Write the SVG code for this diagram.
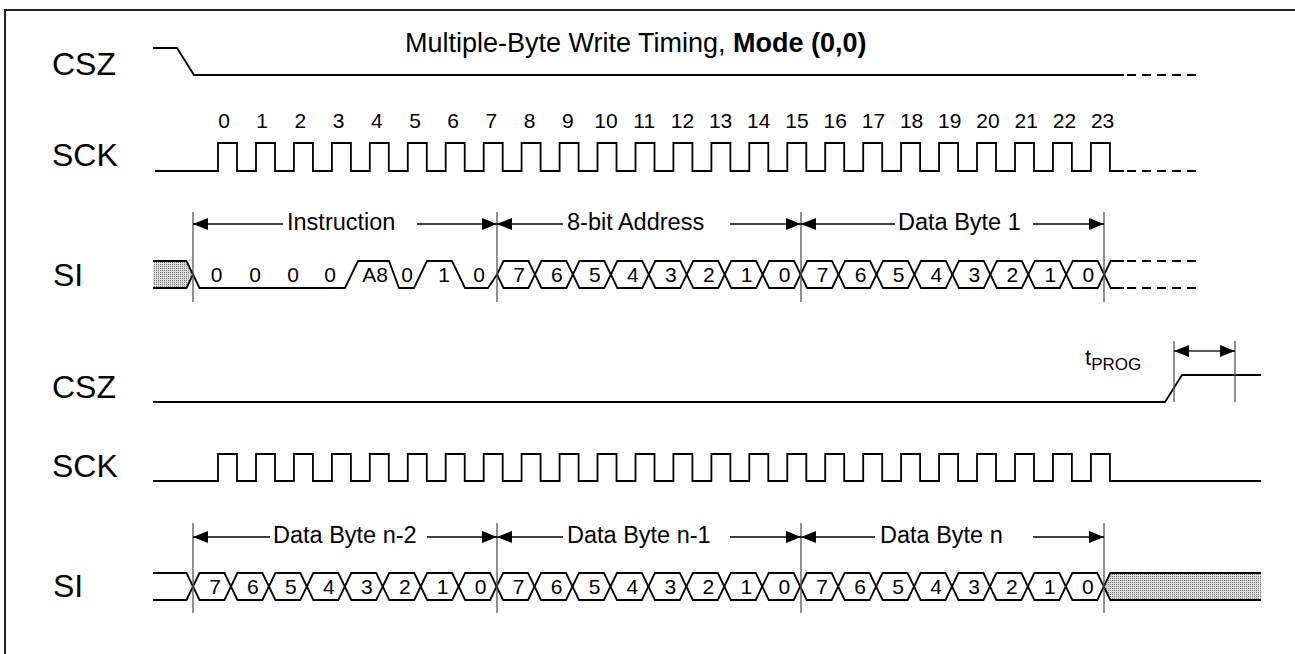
<svg xmlns="http://www.w3.org/2000/svg" xmlns:xlink="http://www.w3.org/1999/xlink" width="1295" height="654" viewBox="0 0 1295 654">
<style>
text{font-family:"Liberation Sans",Arial,sans-serif;fill:#000}
.lbl{font-size:32px}
.num{font-size:21px;text-anchor:middle}
.bit{font-size:21px;text-anchor:middle}
.cap{font-size:23.5px}
.w{fill:none;stroke:#000;stroke-width:1.8;stroke-linejoin:miter}
.d{fill:none;stroke:#000;stroke-width:1.8;stroke-dasharray:9 6}
.v{stroke:#555;stroke-width:1.3;fill:none}
.a{stroke:#000;stroke-width:1.3;fill:none;marker-end:url(#ah)}
.hat{fill:url(#dots);stroke:none}
</style>
<defs>
<pattern id="dots" width="2" height="2" patternUnits="userSpaceOnUse">
<rect width="2" height="2" fill="#dcdcdc"/>
<rect width="1" height="1" fill="#7a7a7a"/>
</pattern>
<marker id="ah" markerUnits="userSpaceOnUse" markerWidth="15" markerHeight="12" refX="15" refY="6" orient="auto" viewBox="0 0 15 12">
<path d="M0,0 L15,6 L0,12 z" fill="#000"/>
</marker>
<polygon id="hx" points="0,13.5 6.5,0 31.45,0 37.95,13.5 31.45,27 6.5,27" fill="none" stroke="#000" stroke-width="1.8"/>
</defs>

<path id="frame" d="M5,654 V10 H1295" fill="none" stroke="#222" stroke-width="2"/>

<g id="title">
<text x="405" y="52" font-size="27">Multiple-Byte Write Timing, <tspan font-weight="bold">Mode (0,0)</tspan></text>
</g>

<g id="csz1">
<text class="lbl" x="52" y="75">CSZ</text>
<path class="w" d="M153,48 H177 L194,75 H1124"/>
<path class="d" d="M1127,75 H1200"/>
</g>

<g id="sck1">
<text class="lbl" x="52" y="166">SCK</text>
<g class="num">
<text x="224" y="128">0</text><text x="262.2" y="128">1</text><text x="300.4" y="128">2</text><text x="338.6" y="128">3</text>
<text x="376.8" y="128">4</text><text x="415" y="128">5</text><text x="453.2" y="128">6</text><text x="491.4" y="128">7</text>
<text x="529.6" y="128">8</text><text x="567.8" y="128">9</text><text x="606" y="128">10</text><text x="644.2" y="128">11</text>
<text x="682.4" y="128">12</text><text x="720.6" y="128">13</text><text x="758.8" y="128">14</text><text x="797" y="128">15</text>
<text x="835.2" y="128">16</text><text x="873.4" y="128">17</text><text x="911.6" y="128">18</text><text x="949.8" y="128">19</text>
<text x="988" y="128">20</text><text x="1026.2" y="128">21</text><text x="1064.4" y="128">22</text><text x="1102.6" y="128">23</text>
</g>
<path class="w" d="M155,171 H218 V143 H237 V171 H256 V143 H275 V171 H293.9 V143 H312.9 V171 H331.9 V143 H350.9 V171 H369.8 V143 H388.8 V171 H407.8 V143 H426.8 V171 H445.7 V143 H464.7 V171 H483.7 V143 H502.7 V171 H521.6 V143 H540.6 V171 H559.6 V143 H578.6 V171 H597.5 V143 H616.5 V171 H635.5 V143 H654.5 V171 H673.4 V143 H692.4 V171 H711.4 V143 H730.4 V171 H749.3 V143 H768.3 V171 H787.3 V143 H806.3 V171 H825.2 V143 H844.2 V171 H863.2 V143 H882.2 V171 H901.1 V143 H920.1 V171 H939.1 V143 H958.1 V171 H977 V143 H996 V171 H1015 V143 H1034 V171 H1052.9 V143 H1071.9 V171 H1090.9 V143 H1109.9 V171 H1124"/>
<path class="d" d="M1127,171 H1200"/>
</g>

<g id="si1">
<text class="lbl" x="53" y="286">SI</text>
<polygon class="hat" points="153,261 186.5,261 193,274.5 186.5,288 153,288"/>
<path class="w" d="M153,261 H186.5 L193,274.5 L186.5,288 H153"/>
<path class="w" d="M193,274.5 L199.5,288 H345 L358,261 H389 L399,288 H414 L427,261 H452 L465,288 H488 L497,274.5"/>
<g>
<use xlink:href="#hx" x="497" y="261"/><use xlink:href="#hx" x="534.95" y="261"/><use xlink:href="#hx" x="572.9" y="261"/><use xlink:href="#hx" x="610.85" y="261"/>
<use xlink:href="#hx" x="648.8" y="261"/><use xlink:href="#hx" x="686.75" y="261"/><use xlink:href="#hx" x="724.7" y="261"/><use xlink:href="#hx" x="762.65" y="261"/>
<use xlink:href="#hx" x="800.6" y="261"/><use xlink:href="#hx" x="838.55" y="261"/><use xlink:href="#hx" x="876.5" y="261"/><use xlink:href="#hx" x="914.45" y="261"/>
<use xlink:href="#hx" x="952.4" y="261"/><use xlink:href="#hx" x="990.35" y="261"/><use xlink:href="#hx" x="1028.3" y="261"/><use xlink:href="#hx" x="1066.25" y="261"/>
</g>
<path class="w" d="M1104.2,274.5 L1110.7,261 H1124 M1104.2,274.5 L1110.7,288 H1124"/>
<path class="d" d="M1127,261 H1200 M1127,288 H1200"/>
<g class="bit">
<text x="216.7" y="282">0</text><text x="255" y="282">0</text><text x="293" y="282">0</text><text x="330" y="282">0</text>
<text x="375" y="282">A8</text><text x="407" y="282">0</text><text x="444" y="282">1</text><text x="479" y="282">0</text>
<text x="519" y="282">7</text><text x="556.95" y="282">6</text><text x="594.9" y="282">5</text><text x="632.85" y="282">4</text>
<text x="670.8" y="282">3</text><text x="708.75" y="282">2</text><text x="746.7" y="282">1</text><text x="784.65" y="282">0</text>
<text x="822.6" y="282">7</text><text x="860.55" y="282">6</text><text x="898.5" y="282">5</text><text x="936.45" y="282">4</text>
<text x="974.4" y="282">3</text><text x="1012.35" y="282">2</text><text x="1050.3" y="282">1</text><text x="1088.25" y="282">0</text>
</g>
</g>

<g id="csz2">
<text class="lbl" x="52" y="398">CSZ</text>
<path class="w" d="M153,402 H1165 L1182,375 H1261"/>
<text x="1085" y="365" font-size="22">t<tspan font-size="17" dy="5">PROG</tspan></text>
</g>

<g id="sck2">
<text class="lbl" x="52" y="477">SCK</text>
<path class="w" d="M153,481 H218 V454 H237 V481 H256 V454 H275 V481 H293.9 V454 H312.9 V481 H331.9 V454 H350.9 V481 H369.8 V454 H388.8 V481 H407.8 V454 H426.8 V481 H445.7 V454 H464.7 V481 H483.7 V454 H502.7 V481 H521.6 V454 H540.6 V481 H559.6 V454 H578.6 V481 H597.5 V454 H616.5 V481 H635.5 V454 H654.5 V481 H673.4 V454 H692.4 V481 H711.4 V454 H730.4 V481 H749.3 V454 H768.3 V481 H787.3 V454 H806.3 V481 H825.2 V454 H844.2 V481 H863.2 V454 H882.2 V481 H901.1 V454 H920.1 V481 H939.1 V454 H958.1 V481 H977 V454 H996 V481 H1015 V454 H1034 V481 H1052.9 V454 H1071.9 V481 H1090.9 V454 H1109.9 V481 H1261"/>
</g>

<g id="si2">
<text class="lbl" x="53" y="597">SI</text>
<path class="w" d="M153,573 H186.5 L193,586.5 L186.5,600 H153"/>
<g>
<use xlink:href="#hx" x="193" y="573"/><use xlink:href="#hx" x="230.95" y="573"/><use xlink:href="#hx" x="268.9" y="573"/><use xlink:href="#hx" x="306.85" y="573"/>
<use xlink:href="#hx" x="344.8" y="573"/><use xlink:href="#hx" x="382.75" y="573"/><use xlink:href="#hx" x="420.7" y="573"/><use xlink:href="#hx" x="458.65" y="573"/>
<use xlink:href="#hx" x="496.6" y="573"/><use xlink:href="#hx" x="534.55" y="573"/><use xlink:href="#hx" x="572.5" y="573"/><use xlink:href="#hx" x="610.45" y="573"/>
<use xlink:href="#hx" x="648.4" y="573"/><use xlink:href="#hx" x="686.35" y="573"/><use xlink:href="#hx" x="724.3" y="573"/><use xlink:href="#hx" x="762.25" y="573"/>
<use xlink:href="#hx" x="800.2" y="573"/><use xlink:href="#hx" x="838.15" y="573"/><use xlink:href="#hx" x="876.1" y="573"/><use xlink:href="#hx" x="914.05" y="573"/>
<use xlink:href="#hx" x="952" y="573"/><use xlink:href="#hx" x="989.95" y="573"/><use xlink:href="#hx" x="1027.9" y="573"/><use xlink:href="#hx" x="1065.85" y="573"/>
</g>
<polygon class="hat" points="1103.8,586.5 1110.3,573 1261,573 1261,600 1110.3,600"/>
<path class="w" d="M1261,573 H1110.3 L1103.8,586.5 L1110.3,600 H1261"/>
<g class="bit">
<text x="215" y="594">7</text><text x="252.95" y="594">6</text><text x="290.9" y="594">5</text><text x="328.85" y="594">4</text>
<text x="366.8" y="594">3</text><text x="404.75" y="594">2</text><text x="442.7" y="594">1</text><text x="480.65" y="594">0</text>
<text x="518.6" y="594">7</text><text x="556.55" y="594">6</text><text x="594.5" y="594">5</text><text x="632.45" y="594">4</text>
<text x="670.4" y="594">3</text><text x="708.35" y="594">2</text><text x="746.3" y="594">1</text><text x="784.25" y="594">0</text>
<text x="822.2" y="594">7</text><text x="860.15" y="594">6</text><text x="898.1" y="594">5</text><text x="936.05" y="594">4</text>
<text x="974" y="594">3</text><text x="1011.95" y="594">2</text><text x="1049.9" y="594">1</text><text x="1087.85" y="594">0</text>
</g>
</g>

<g id="connectors">
<path class="v" d="M193,212 V302 M497,212 V302 M801,212 V302 M1104,212 V302"/>
<path class="v" d="M193,523 V613 M497,523 V613 M801,523 V613 M1104,523 V613"/>
<path class="v" d="M1174,341 V402 M1235,341 V402"/>
<path class="a" d="M283,224 H193"/><path class="a" d="M417,224 H497"/>
<path class="a" d="M563,224 H497"/><path class="a" d="M730,224 H801"/>
<path class="a" d="M895,224 H801"/><path class="a" d="M1033,224 H1104"/>
<path class="a" d="M270,537 H193"/><path class="a" d="M427,537 H497"/>
<path class="a" d="M563,537 H497"/><path class="a" d="M730,537 H801"/>
<path class="a" d="M875,537 H801"/><path class="a" d="M1033,537 H1104"/>
<path class="a" d="M1204,351 H1174"/><path class="a" d="M1204,351 H1235"/>
</g>

<g id="dimlabels" class="cap">
<text x="287" y="230">Instruction</text>
<text x="567" y="230">8-bit Address</text>
<text x="898" y="230">Data Byte 1</text>
<text x="273" y="543">Data Byte n-2</text>
<text x="567" y="543">Data Byte n-1</text>
<text x="880" y="543">Data Byte n</text>
</g>
</svg>
